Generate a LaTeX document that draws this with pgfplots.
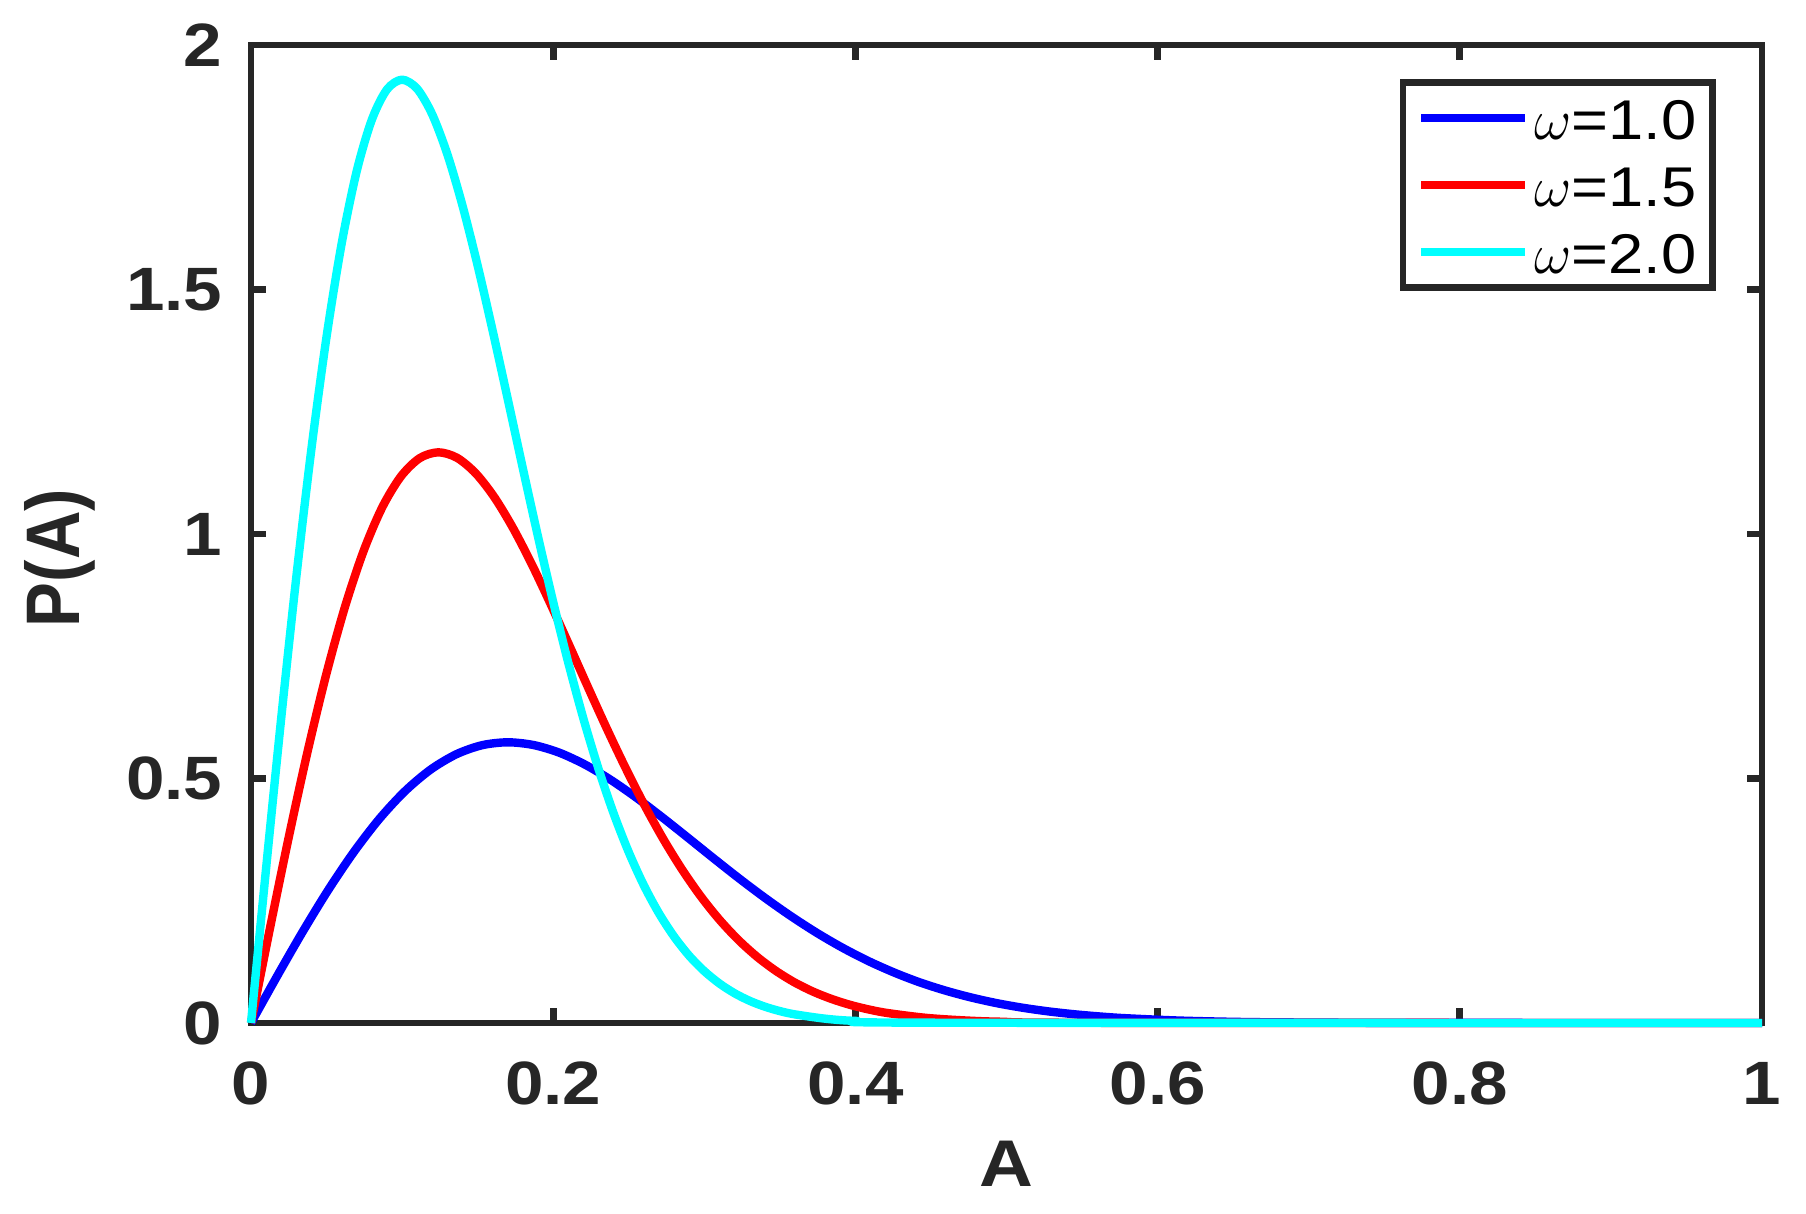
\documentclass[border=0pt]{standalone}
\usepackage{fontspec}
\setmainfont{Liberation Sans}[FakeStretch=1.13]
\newfontfamily\ylfont{Liberation Sans}
\usepackage{graphicx}
\usepackage{pgfplots}
\pgfplotsset{compat=1.18}
\definecolor{axc}{HTML}{262626}
\definecolor{cblue}{RGB}{0,0,255}
\definecolor{cred}{RGB}{255,0,0}
\definecolor{ccyan}{RGB}{0,255,255}
\begin{document}
\begin{tikzpicture}
\begin{axis}[
  scale only axis, width=377.75pt, height=244.5pt,
  xmin=0, xmax=1, ymin=0, ymax=2,
  xtick={0,0.2,0.4,0.6,0.8,1}, ytick={0,0.5,1,1.5,2},
  axis line style={axc, line width=1.7pt},
  tick style={axc, line width=1.7pt},
  major tick length=3.75pt, tick align=inside,
  /pgf/number format/assume math mode=true,
  tick label style={font=\fontsize{15.3}{18}\selectfont\bfseries, text=axc, inner sep=0pt},
  xticklabel style={anchor=base, yshift=-20.5pt},
  yticklabel style={anchor=east, xshift=-7pt},
  xlabel={A}, ylabel={\scalebox{1}[1.13]{P(A)}},
  every axis x label/.style={at={([yshift=-41pt]rel axis cs:0.5,0)}, anchor=base, font=\fontsize{16.5}{19}\selectfont\bfseries, text=axc},
  every axis y label/.style={at={([xshift=-42.75pt,yshift=-6pt]rel axis cs:0,0.5)}, anchor=base, rotate=90, font=\ylfont\fontsize{16.8}{20}\selectfont\bfseries, text=axc},
  clip=false,
  legend cell align=left,
  legend style={at={(rel axis cs:1,1)}, anchor=north east, xshift=-11.5pt, yshift=-8.6pt,
    draw=axc, line width=1.7pt, fill=white, inner xsep=3.5pt, inner ysep=0.5pt,
    font=\fontsize{14}{16}\selectfont, text=black, row sep=0pt,
    nodes={inner sep=0pt, text height=13.7pt, text depth=3.05pt},
    /tikz/every odd column/.append style={column sep=1.3pt}},
  legend image code/.code={\draw[#1] (0pt,0pt) -- (26pt,0pt);},
]
\addplot[color=cblue, line width=2.1pt, line join=round, smooth] coordinates {
(0,0) (0.017,0.0942) (0.034,0.1855) (0.051,0.2714) (0.068,0.3494) (0.085,0.4176)
(0.102,0.4743) (0.119,0.5185) (0.136,0.5497) (0.153,0.5681) (0.170,0.5740)
(0.187,0.5684) (0.204,0.5528) (0.221,0.5285) (0.238,0.4973) (0.255,0.4609)
(0.272,0.4210) (0.289,0.3793) (0.306,0.3371) (0.323,0.2957) (0.340,0.2562)
(0.357,0.2192) (0.374,0.1852) (0.391,0.1546) (0.408,0.1275) (0.425,0.1040)
(0.442,0.0837) (0.459,0.0668) (0.476,0.0526) (0.493,0.0409) (0.510,0.0315)
(0.527,0.0240) (0.544,0.0181) (0.561,0.0135) (0.578,0.0099) (0.612,0.0052)
(0.646,0.0026) (0.680,0.0013) (0.765,0.0002) (1,0)};
\addlegendentry{\makebox[41pt][l]{$\omega$=1.0}}
\addplot[color=cred, line width=2.1pt, line join=round, smooth] coordinates {
(0,0) (0.0124,0.1914) (0.0248,0.3772) (0.0372,0.5518) (0.0496,0.7105) (0.062,0.8490)
(0.0744,0.9643) (0.0868,1.0542) (0.0992,1.1176) (0.1116,1.1550) (0.124,1.1670)
(0.1364,1.1557) (0.1488,1.1238) (0.1612,1.0745) (0.1736,1.0110) (0.186,0.9370)
(0.1984,0.8559) (0.2108,0.7712) (0.2232,0.6854) (0.2356,0.6012) (0.248,0.5208)
(0.2604,0.4456) (0.2728,0.3765) (0.2852,0.3143) (0.2976,0.2592) (0.31,0.2113)
(0.3224,0.1703) (0.3348,0.1357) (0.3472,0.1069) (0.3596,0.0832) (0.372,0.0641)
(0.3844,0.0489) (0.3968,0.0368) (0.4092,0.0274) (0.4216,0.0202) (0.4464,0.0106)
(0.4712,0.0054) (0.496,0.0026) (0.558,0.0004) (1,0)};
\addlegendentry{\makebox[41pt][l]{$\omega$=1.5}}
\addplot[color=ccyan, line width=2.1pt, line join=round, smooth] coordinates {
(0,0) (0.01,0.3165) (0.02,0.6235) (0.03,0.9122) (0.04,1.1744) (0.05,1.4033)
(0.06,1.5939) (0.07,1.7425) (0.08,1.8474) (0.09,1.9091) (0.10,1.9290)
(0.11,1.9103) (0.12,1.8576) (0.13,1.7760) (0.14,1.6711) (0.15,1.5488)
(0.16,1.4147) (0.17,1.2747) (0.18,1.1329) (0.19,0.9938) (0.20,0.8609)
(0.21,0.7365) (0.22,0.6223) (0.23,0.5195) (0.24,0.4284) (0.25,0.3493)
(0.26,0.2814) (0.27,0.2243) (0.28,0.1767) (0.29,0.1375) (0.30,0.1060)
(0.31,0.0808) (0.32,0.0608) (0.33,0.0453) (0.34,0.0334) (0.35,0.0243)
(0.36,0.0176) (0.38,0.0088) (0.40,0.0043) (0.45,0.0006) (1,0)};
\addlegendentry{\makebox[41pt][l]{$\omega$=2.0}}
\coordinate (sw) at (rel axis cs:0,0);
\coordinate (ne) at (rel axis cs:1,1);
\end{axis}
\path ([shift={(-62.75pt,-47.75pt)}]sw) rectangle ([shift={(11pt,11.25pt)}]ne);
\end{tikzpicture}
\end{document}
